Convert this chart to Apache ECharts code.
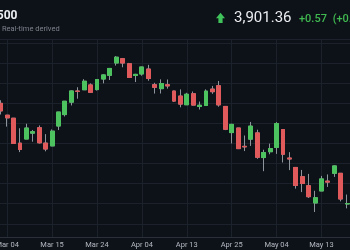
<!DOCTYPE html>
<html><head><meta charset="utf-8">
<script src="https://cdn.jsdelivr.net/npm/echarts@6/dist/echarts.min.js"></script>
<style>
html,body{margin:0;padding:0;background:#0d1118;overflow:hidden;width:350px;height:250px}
#c{position:absolute;left:-60px;top:0;width:470px;height:250px}
</style></head>
<body><div id="c"></div>
<script>
// S&P 500 daily, 2022
const dates = ['Mar 01','Mar 02','Mar 03','Mar 04','Mar 07','Mar 08','Mar 09','Mar 10','Mar 11','Mar 14','Mar 15','Mar 16','Mar 17','Mar 18','Mar 21','Mar 22','Mar 23','Mar 24','Mar 25','Mar 28','Mar 29','Mar 30','Mar 31',
'Apr 01','Apr 04','Apr 05','Apr 06','Apr 07','Apr 08','Apr 11','Apr 12','Apr 13','Apr 14','Apr 18','Apr 19','Apr 20','Apr 21','Apr 22','Apr 25','Apr 26','Apr 27','Apr 28','Apr 29',
'May 02','May 03','May 04','May 05','May 06','May 09','May 10','May 11','May 12','May 13','May 16','May 17','May 18','May 19','May 20'];
const opens  = [4363.14,4322.56,4401.31,4342.12,4327.01,4202.66,4223.10,4252.55,4279.50,4202.75,4188.82,4288.14,4345.11,4407.34,4462.40,4469.10,4493.10,4469.98,4522.66,4541.09,4602.86,4624.20,4599.02,
4540.32,4547.97,4572.45,4494.17,4474.65,4494.15,4462.64,4437.59,4394.30,4449.12,4385.63,4390.63,4472.26,4489.17,4385.83,4255.34,4278.14,4186.52,4222.58,4253.75,
4130.61,4159.78,4181.18,4270.43,4128.17,4081.27,4035.18,3990.08,3903.95,3963.90,4013.02,4052.00,4051.98,3899.00,3927.76];
const highs  = [4378.45,4401.48,4416.78,4342.12,4327.01,4276.94,4299.40,4268.28,4291.01,4247.57,4271.05,4357.86,4412.67,4465.40,4481.75,4522.00,4501.07,4520.58,4546.03,4575.65,4637.30,4627.77,4603.07,
4548.70,4583.50,4593.45,4503.94,4521.16,4520.41,4464.35,4471.00,4453.92,4460.46,4410.31,4471.03,4488.29,4512.94,4385.83,4299.02,4278.14,4240.71,4308.45,4269.68,
4169.81,4200.10,4307.66,4270.43,4157.69,4081.27,4068.82,4049.09,3964.80,4038.88,4046.46,4090.72,4051.98,3945.96,3943.42];
const lows   = [4279.54,4322.56,4345.56,4284.98,4199.85,4157.87,4223.10,4209.80,4200.49,4161.72,4187.90,4267.92,4335.65,4390.57,4424.30,4469.10,4455.81,4465.17,4501.07,4517.69,4589.66,4581.32,4530.41,
4507.57,4539.21,4514.17,4450.04,4450.30,4474.60,4408.38,4381.34,4392.70,4390.77,4370.30,4390.63,4448.76,4384.47,4267.62,4200.82,4175.04,4162.90,4188.63,4124.28,
4062.51,4147.08,4148.91,4106.01,4067.91,3975.48,3958.17,3928.82,3858.87,3963.90,3983.99,4033.93,3911.91,3876.93,3810.32];
const closes = [4306.26,4386.54,4363.49,4328.87,4201.09,4170.70,4277.88,4259.52,4204.31,4173.11,4262.45,4357.86,4411.67,4463.12,4461.18,4511.61,4456.24,4520.16,4543.06,4575.52,4631.60,4602.45,4530.41,
4545.86,4582.64,4525.12,4481.15,4500.21,4488.28,4412.53,4397.45,4446.59,4392.59,4391.69,4462.21,4459.45,4393.66,4271.78,4296.12,4175.20,4183.96,4287.50,4131.93,
4155.38,4175.48,4300.17,4146.87,4123.34,3991.24,4001.05,3935.18,3930.08,4023.89,4008.01,4088.85,3923.68,3900.79,3901.36];
const tickLabels = ['Mar 04','Mar 15','Mar 24','Apr 04','Apr 13','Apr 25','May 04','May 13'];
const titleText = 'S&P 500';
const subtitleText = 'Real-time derived';
const lastPrice = '3,901.36';
const changeText = '+0.57';
const changePctText = '(+0.01%)';

const UP = '#4cc35e', DOWN = '#e0595b', WICK = '#8d949c';
const OFF = 60; // page x -> div x

const wickData = dates.map((d, i) => [opens[i], closes[i], lows[i], highs[i]]);
const bodyData = dates.map((d, i) => [opens[i], closes[i], Math.min(opens[i], closes[i]), Math.max(opens[i], closes[i])]);

const chart = echarts.init(document.getElementById('c'), null, {renderer: 'canvas'});
const showTick = (i, v) => tickLabels.indexOf(v) >= 0;
chart.setOption({
  backgroundColor: '#0d1118',
  animation: false,
  grid: {left: OFF - 12.04, right: 470 - (OFF - 12.04) - 365.6, top: 39.5, bottom: 13},
  xAxis: {
    type: 'category', data: dates, boundaryGap: false,
    axisLine: {show: true, onZero: false, lineStyle: {color: '#2a3039', width: 1}},
    axisTick: {show: false, interval: showTick},
    axisLabel: {interval: showTick, color: '#b4bac2', fontSize: 7.5, margin: 4, fontFamily: 'Roboto'},
    splitLine: {show: true, interval: showTick, lineStyle: {color: '#1c222b', width: 1}}
  },
  yAxis: {
    type: 'value', scale: true, min: 3734, max: 4720, splitNumber: 10, position: 'right',
    axisLine: {show: false}, axisTick: {show: false}, axisLabel: {show: false},
    splitLine: {show: true, showMinLine: false, showMaxLine: true, lineStyle: {color: '#1c222b', width: 1}}
  },
  series: [
    {type: 'candlestick', data: wickData, barWidth: 4.4,
     itemStyle: {color: WICK, color0: WICK, borderColor: WICK, borderColor0: WICK, borderColorDoji: WICK, borderWidth: 1}},
    {type: 'candlestick', data: bodyData, barWidth: 4.4,
     itemStyle: {color: UP, color0: DOWN, borderColor: UP, borderColor0: DOWN, borderColorDoji: WICK, borderWidth: 1}}
  ],
  graphic: [
    {type: 'text', x: OFF + 17.5, y: 15.5, style: {text: titleText, fill: '#eceef1', font: 'bold 12px Roboto', align: 'right', verticalAlign: 'middle'}},
    {type: 'text', x: OFF + 2, y: 29.5, style: {text: subtitleText, fill: '#7d838c', font: '7.5px Roboto', align: 'left', verticalAlign: 'middle'}},
    {type: 'polygon', shape: {points: [[OFF+216,18.2],[OFF+220.5,12.8],[OFF+225,18.2],[OFF+222.6,18.2],[OFF+222.6,23],[OFF+218.4,23],[OFF+218.4,18.2]]}, style: {fill: '#3fc35a'}},
    {type: 'text', x: OFF + 234, y: 18, style: {text: lastPrice, fill: '#eceef1', font: '15px Roboto', align: 'left', verticalAlign: 'middle'}},
    {type: 'text', x: OFF + 299, y: 19.3, style: {text: changeText, fill: '#3fb950', font: '500 11px Roboto', align: 'left', verticalAlign: 'middle'}},
    {type: 'text', x: OFF + 332.7, y: 19.3, style: {text: changePctText, fill: '#3fb950', font: '500 11px Roboto', align: 'left', verticalAlign: 'middle'}}
  ]
});
</script></body></html>
